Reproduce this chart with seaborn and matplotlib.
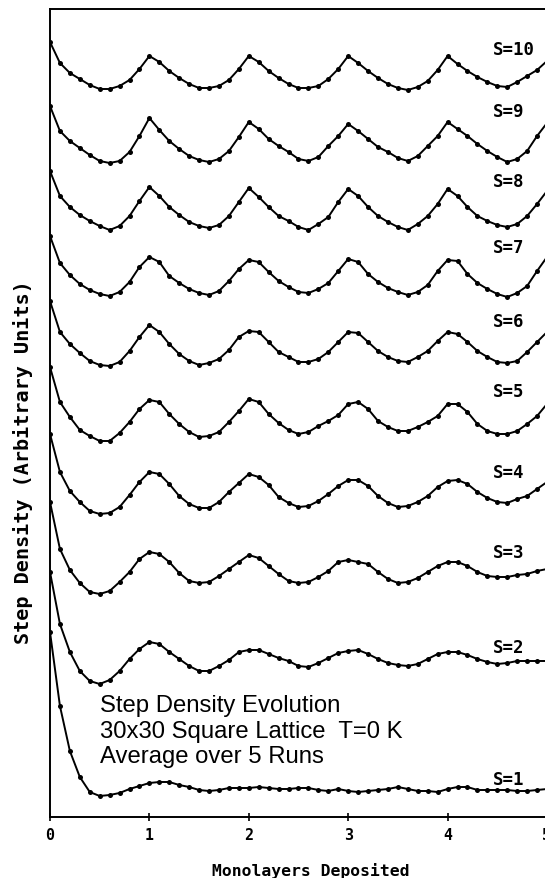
import numpy as np
import pandas as pd
import seaborn as sns
import matplotlib.pyplot as plt

# monolayers deposited, sampled every 0.1 ML
ml = np.round(np.linspace(0, 5, 51), 1)

# step density (arbitrary units, curves already offset)
s1 = [185, 111, 66, 40, 25, 21, 22, 24, 28, 31, 34,
      35, 35, 32, 30, 27, 26, 27, 29, 29, 29,
      30, 29, 28, 28, 29, 29, 27, 26, 28, 26,
      25, 26, 27, 28, 30, 28, 26, 26, 25, 28,
      30, 30, 27, 27, 27, 27, 26, 26, 27, 28]
s2 = [245, 193, 165, 146, 136, 133, 137, 146, 158, 168, 175,
      173, 165, 158, 151, 146, 146, 151, 157, 165, 167,
      167, 163, 159, 156, 151, 150, 154, 159, 164, 166,
      167, 163, 158, 154, 152, 151, 153, 158, 163, 165,
      165, 162, 158, 155, 153, 154, 156, 156, 156, 156]
s3 = [315, 268, 247, 234, 225, 223, 226, 235, 245, 258, 265,
      263, 255, 244, 236, 234, 235, 241, 248, 255, 262,
      259, 251, 243, 236, 234, 235, 240, 246, 255, 257,
      255, 253, 245, 238, 234, 235, 239, 245, 251, 255,
      255, 251, 245, 241, 240, 240, 242, 243, 246, 248]
s4 = [383, 345, 326, 315, 306, 303, 304, 310, 322, 335, 345,
      343, 333, 321, 313, 309, 309, 315, 325, 334, 343,
      340, 332, 320, 314, 310, 311, 316, 323, 331, 337,
      337, 331, 321, 314, 310, 311, 315, 321, 330, 336,
      337, 333, 325, 319, 315, 314, 318, 321, 328, 335]
s5 = [450, 415, 400, 387, 381, 376, 376, 384, 395, 408, 417,
      415, 403, 393, 385, 380, 381, 385, 395, 406, 418,
      415, 403, 394, 387, 383, 385, 391, 396, 402, 413,
      415, 408, 396, 390, 386, 386, 390, 395, 401, 413,
      413, 405, 393, 386, 383, 383, 386, 393, 401, 413]
s6 = [516, 485, 473, 464, 456, 452, 451, 455, 466, 480, 492,
      485, 473, 463, 456, 452, 454, 458, 467, 480, 486,
      485, 475, 465, 460, 455, 455, 458, 465, 475, 485,
      484, 475, 466, 460, 456, 455, 460, 466, 476, 485,
      483, 475, 466, 460, 455, 454, 456, 465, 475, 485]
s7 = [581, 554, 542, 533, 527, 523, 521, 525, 535, 550, 560,
      555, 541, 534, 528, 524, 522, 526, 536, 548, 557,
      555, 545, 536, 530, 525, 524, 528, 534, 546, 558,
      555, 543, 535, 529, 525, 522, 525, 532, 546, 557,
      556, 543, 534, 528, 523, 520, 524, 531, 546, 560]
s8 = [646, 621, 610, 602, 596, 591, 587, 591, 601, 616, 630,
      621, 610, 602, 595, 591, 589, 592, 601, 615, 629,
      620, 610, 601, 596, 590, 587, 593, 600, 615, 628,
      621, 610, 601, 595, 590, 587, 593, 601, 613, 628,
      621, 610, 601, 596, 592, 590, 593, 601, 613, 626]
s9 = [711, 686, 676, 669, 662, 656, 654, 656, 665, 681, 699,
      687, 676, 668, 661, 657, 655, 658, 666, 680, 695,
      688, 678, 671, 665, 658, 656, 660, 671, 681, 693,
      686, 678, 670, 665, 659, 656, 661, 671, 681, 695,
      688, 681, 673, 666, 660, 655, 658, 666, 681, 694]
s10 = [775, 754, 744, 738, 732, 728, 728, 731, 737, 748, 761,
       755, 746, 739, 733, 729, 729, 731, 737, 748, 761,
       755, 746, 739, 733, 729, 729, 731, 738, 748, 761,
       754, 746, 739, 733, 729, 727, 730, 736, 747, 761,
       753, 746, 740, 735, 731, 730, 735, 741, 747, 756]

curves = [s1, s2, s3, s4, s5, s6, s7, s8, s9, s10]
s_labels = ['S=1', 'S=2', 'S=3', 'S=4', 'S=5', 'S=6', 'S=7', 'S=8', 'S=9', 'S=10']
# label anchor heights (same units as the curves)
label_y = [38, 170, 265, 345, 426, 496, 570, 636, 706, 768]

info_lines = ['Step Density Evolution',
              '30x30 Square Lattice  T=0 K',
              'Average over 5 Runs']
info_y = [106, 80, 55]

df = pd.concat([pd.DataFrame({'ML': ml, 'density': c, 'S': lab})
                for c, lab in zip(curves, s_labels)])

sns.set_style('ticks')
plt.rcParams['font.family'] = ['DejaVu Sans Mono']
plt.rcParams['font.weight'] = 'bold'
for key in ['text.color', 'axes.labelcolor', 'xtick.color', 'ytick.color', 'axes.edgecolor']:
    plt.rcParams[key] = 'black'

fig = plt.figure(figsize=(5.45, 8.79), dpi=100)
ax = fig.add_axes([50 / 545, 61 / 879, 497 / 545, 808 / 879])

sns.lineplot(data=df, x='ML', y='density', hue='S', palette=['black'] * 10,
             marker='o', markersize=3.6, markeredgewidth=0, linewidth=1.4,
             legend=False, ax=ax)

for lab, yy in zip(s_labels, label_y):
    ax.text(4.46, yy, lab, fontsize=12.5, fontweight='bold', va='center', ha='left')

for line, yy in zip(info_lines, info_y):
    ax.text(0.50, yy, line, family='Liberation Sans', fontweight='normal',
            fontsize=17.2, va='baseline', ha='left', color='black')

ax.set_xlim(0, 5)
ax.set_ylim(0, 808)
ax.set_yticks([])
ax.set_xticks(range(6))
ax.tick_params(axis='x', direction='inout', length=6, width=1.2, labelsize=10.8, pad=4)
ax.set_xlabel('')
ax.set_ylabel('')
for side in ['left', 'bottom', 'top']:
    ax.spines[side].set_linewidth(1.4)
ax.spines['right'].set_visible(False)

fig.text(311 / 545, 1 - 871 / 879, 'Monolayers Deposited', fontsize=11.8,
         fontweight='bold', ha='center', va='center')
fig.text(23 / 545, 1 - 462 / 879, 'Step Density (Arbitrary Units)', fontsize=14.5,
         fontweight='bold', rotation=90, ha='center', va='center')

fig.savefig('out.png', dpi=100)
